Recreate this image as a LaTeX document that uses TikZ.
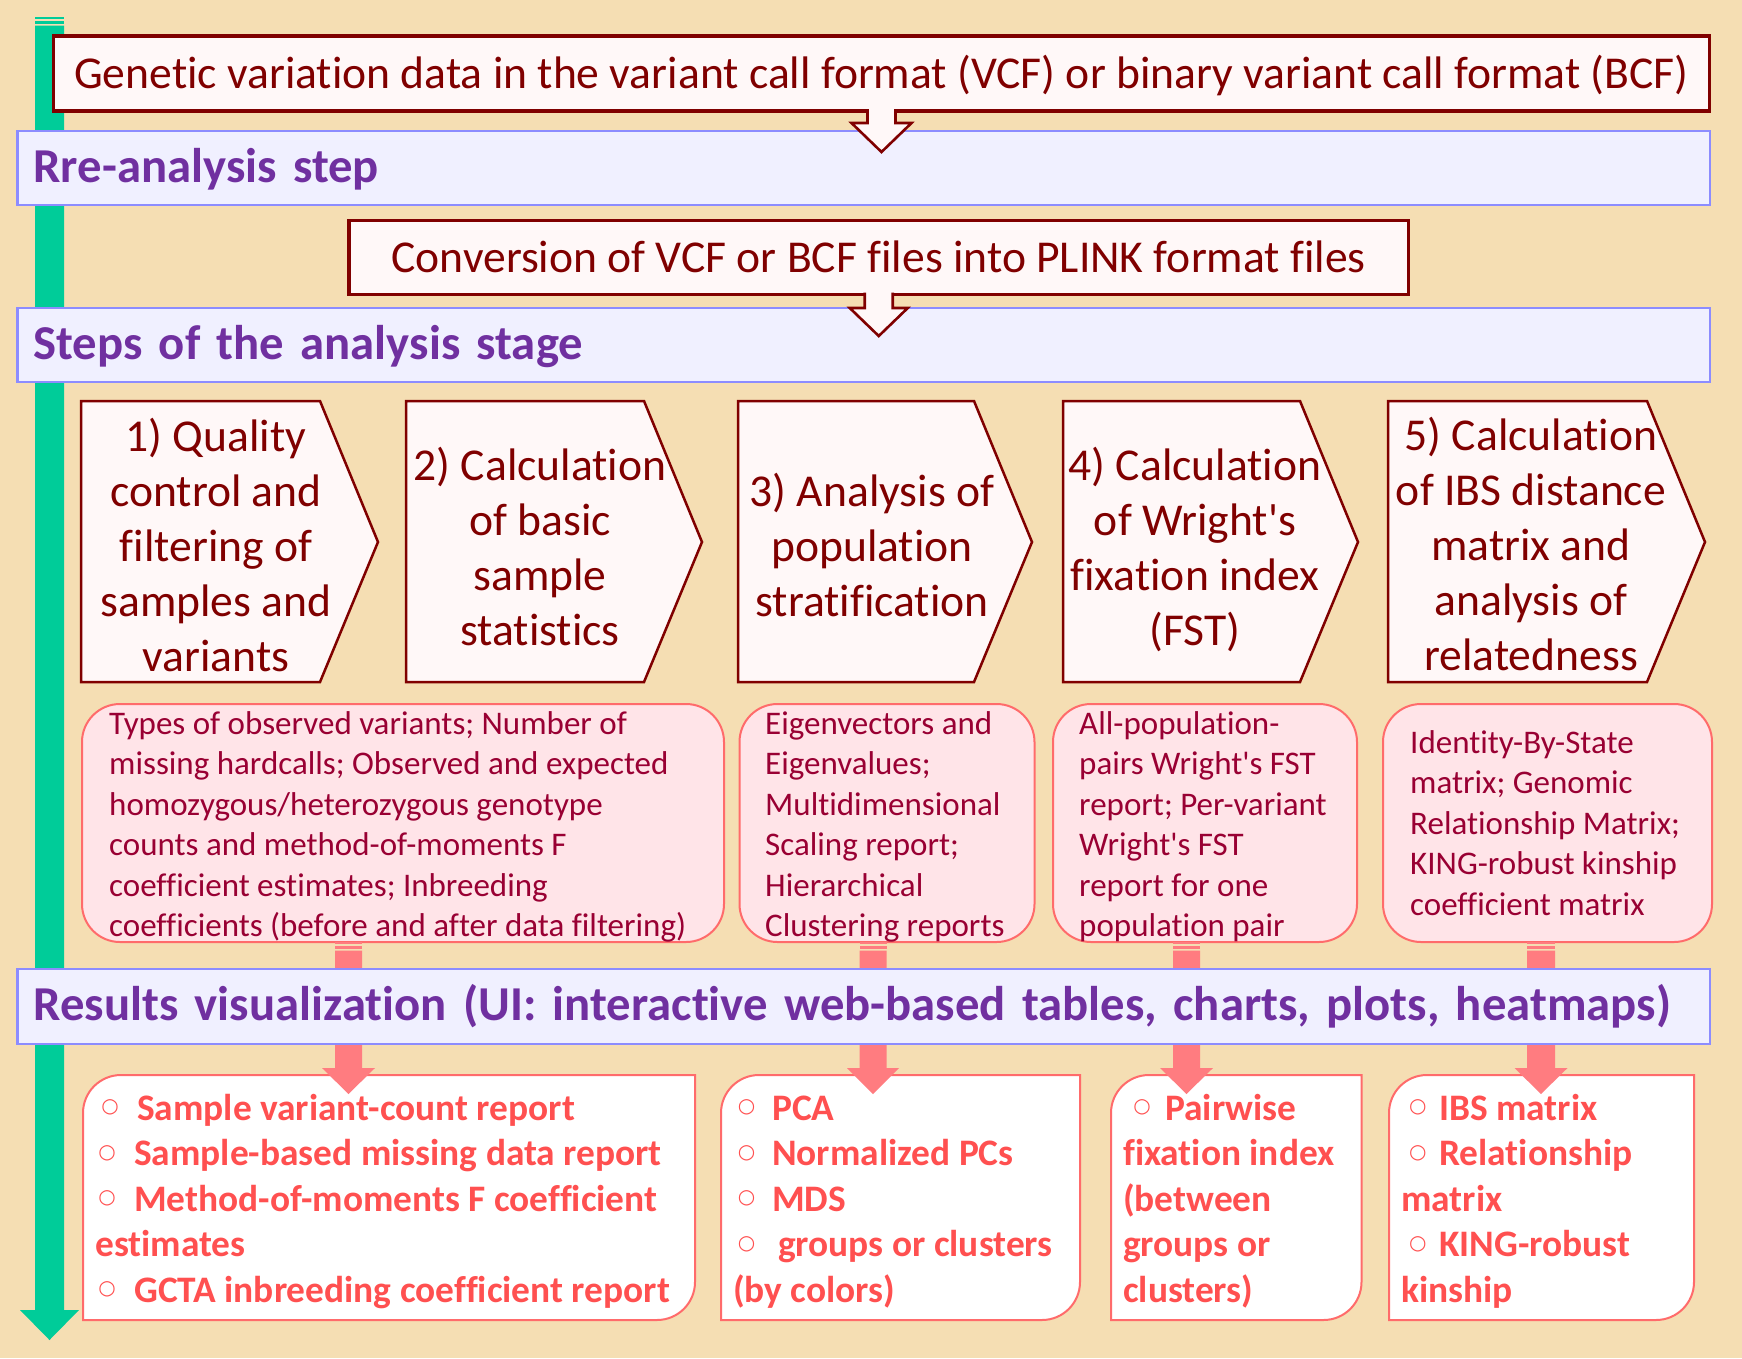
\documentclass[tikz,border=0pt]{standalone}
\usepackage{fontspec}
\setmainfont{Carlito}[Ligatures={TeXOff,NoCommon}]
\newfontfamily\symfont{DejaVu Sans}
\usetikzlibrary{calc}
\definecolor{bgc}{HTML}{F5DEB3}
\definecolor{grn}{HTML}{00CC99}
\definecolor{maroonc}{HTML}{800000}
\definecolor{paper}{HTML}{FFF8F8}
\definecolor{bandfill}{HTML}{F0F0FF}
\definecolor{banddraw}{HTML}{8C8CFF}
\definecolor{purp}{HTML}{7030A0}
\definecolor{pinkfill}{HTML}{FFE4E8}
\definecolor{pinkdraw}{HTML}{FF6B6B}
\definecolor{crim}{HTML}{990033}
\definecolor{redtxt}{HTML}{FF5050}
\definecolor{arrowpink}{HTML}{FF7C80}
\newcommand\bul[2]{\hspace*{#1pt}\makebox[10pt]{\symfont\fontsize{20}{20}\selectfont\raisebox{7.5pt}{○}}\hspace*{#2pt}}
% striped down arrow: colour, x centre, half stem, half head, y top, y head, y tip
\newcommand\sdarrow[7]{%
  \fill[#1] ({#2-#3},#5) rectangle ({#2+#3},{#5+2});
  \fill[#1] ({#2-#3},{#5+3.7}) rectangle ({#2+#3},{#5+6.7});
  \fill[#1] ({#2-#3},{#5+8.7}) -- ({#2-#3},#6) -- ({#2-#4},#6) -- (#2,#7) -- ({#2+#4},#6) -- ({#2+#3},#6) -- ({#2+#3},{#5+8.7}) -- cycle;
}
% box with rounded top-left and bottom-right corners
\newcommand\rcbox[4]{%
  \filldraw[ebox] (#1,#4) -- (#1,{#2+38}) .. controls (#1,{#2+17}) and ({#1+17},#2) .. ({#1+38},#2) -- (#3,#2) -- (#3,{#4-38}) .. controls (#3,{#4-17}) and ({#3-17},#4) .. ({#3-38},#4) -- cycle;
}
\begin{document}
\begin{tikzpicture}[x=1pt,y=-1pt,
  band/.style={draw=banddraw, line width=2.2pt, fill=bandfill, outer sep=0pt,
    minimum width=1692.5pt, minimum height=74pt, text width=1660.5pt, inner xsep=16pt, inner ysep=0pt,
    align=left, text height=28pt, text depth=0pt,
    font=\fontsize{48.7}{58}\selectfont\bfseries, text=purp},
  callbox/.style={draw=maroonc, line width=3.2pt, fill=paper, outer sep=0pt,
    inner sep=0pt, text height=29pt, text depth=0pt, text=maroonc,
    font=\fontsize{45.6}{55}\selectfont},
  calloutarrow/.style={draw=maroonc, line width=2.6pt, fill=paper, line join=miter},
  stepshape/.style={draw=maroonc, line width=2.5pt, fill=paper},
  steptext/.style={anchor=north, inner sep=0pt, align=center, text=maroonc,
    font=\fontsize{45.6}{55}\selectfont},
  pinkbox/.style={draw=pinkdraw, line width=2pt, fill=pinkfill, rounded corners=38pt,
    outer sep=0pt, minimum height=238pt},
  pinktext/.style={anchor=north west, inner sep=0pt, align=left, text=crim,
    font=\fontsize{33}{40.5}\selectfont},
  ebox/.style={draw=pinkdraw, line width=2pt, fill=white},
  etext/.style={anchor=north west, inner sep=0pt, align=left, text=redtxt,
    font=\fontsize{37.4}{45.5}\selectfont\bfseries},
]
\useasboundingbox (0,0) rectangle (1742,1358);
\fill[bgc] (0,0) rectangle (1742,1358);

% timeline arrow
\sdarrow{grn}{49.5}{14.5}{29.5}{17}{1310}{1340}

% stage bands
\node[band] (rre) at (863.8,168) {Rre-analysis step};
\node[band] (steps) at (863.8,345) {Steps of the analysis stage};

% input box with callout arrow
\node[callbox, minimum width=1656pt, minimum height=75pt] (gen) at (881.5,73.5)
  {Genetic variation data in the variant call format (VCF) or binary variant call format (BCF)};
\filldraw[calloutarrow] ($(gen.south)+(-14,-2)$) -- ++(0,14) -- ++(-16,0) -- ++(30,29) -- ++(30,-29) -- ++(-16,0) -- ++(0,-14);

\node[callbox, minimum width=1059.5pt, minimum height=74pt] (conv) at (878.75,257.5)
  {Conversion of VCF or BCF files into PLINK format files};
\filldraw[calloutarrow] ($(conv.south)+(-14,-2)$) -- ++(0,15.5) -- ++(-15,0) -- ++(29,28) -- ++(29,-28) -- ++(-15,0) -- ++(0,-15.5);

% analysis steps
\filldraw[stepshape] (81,401) -- (320,401) -- (378,542) -- (320,682) -- (81,682) -- cycle;
\filldraw[stepshape] (406,401) -- (644,401) -- (702,542) -- (644,682) -- (406,682) -- cycle;
\filldraw[stepshape] (738,401) -- (974,401) -- (1032,542) -- (974,682) -- (738,682) -- cycle;
\filldraw[stepshape] (1063,401) -- (1300,401) -- (1358,542) -- (1300,682) -- (1063,682) -- cycle;
\filldraw[stepshape] (1388,401) -- (1647,401) -- (1705,542) -- (1647,682) -- (1388,682) -- cycle;
\node[steptext] (s1) at (216,410) {\rule{0pt}{41pt}1) Quality\\control and\\filtering of\\samples and\\variants};
\node[steptext] (s2) at (540,439) {\rule{0pt}{41pt}2) Calculation\\of basic\\sample\\statistics};
\node[steptext] (s3) at (872,465) {\rule{0pt}{41pt}3) Analysis of\\population\\stratification};
\node[steptext] (s4) at (1195,439) {\rule{0pt}{41pt}4) Calculation\\of Wright's\\fixation index\\(FST)};
\node[steptext] (s5) at (1531,409) {\rule{0pt}{41pt}5) Calculation\\of IBS distance\\matrix and\\analysis of\\relatedness};

% output descriptions
\node[pinkbox, minimum width=642pt] (bA) at (403,823) {};
\node[pinkbox, minimum width=295pt] (bB) at (887,823) {};
\node[pinkbox, minimum width=304pt] (bC) at (1205,823) {};
\node[pinkbox, minimum width=329pt] (bD) at (1547.5,823) {};
\node[pinktext] (tA) at (109,704.3) {\rule{0pt}{29.7pt}Types of observed variants; Number of\\missing hardcalls; Observed and expected\\homozygous/heterozygous genotype\\counts and method-of-moments F\\coefficient estimates; Inbreeding\\coefficients (before and after data filtering)};
\node[pinktext] (tB) at (765,704.3) {\rule{0pt}{29.7pt}Eigenvectors and\\Eigenvalues;\\Multidimensional\\Scaling report;\\Hierarchical\\Clustering reports};
\node[pinktext] (tC) at (1079,704.3) {\rule{0pt}{29.7pt}All-population-\\pairs Wright's FST\\report; Per-variant\\Wright's FST\\report for one\\population pair};
\node[pinktext] (tD) at (1410,723.3) {\rule{0pt}{29.7pt}Identity-By-State\\matrix; Genomic\\Relationship Matrix;\\KING-robust kinship\\coefficient matrix};

% visualization boxes
\rcbox{83}{1075}{695}{1320}
\rcbox{721}{1075}{1080}{1320}
\rcbox{1111}{1075}{1361.5}{1320}
\rcbox{1389}{1075}{1694}{1320}

% arrows from descriptions to visualizations
\coordinate (a1) at (348.5,942);
\coordinate (a2) at (873,942);
\coordinate (a3) at (1186.5,942);
\coordinate (a4) at (1541,942);
\sdarrow{arrowpink}{348.5}{13.5}{26.5}{942}{1068}{1094}
\sdarrow{arrowpink}{873}{13.5}{26}{942}{1068}{1094}
\sdarrow{arrowpink}{1186.5}{13.5}{26.5}{942}{1068}{1094}
\sdarrow{arrowpink}{1541}{14}{26.5}{942}{1068}{1094}

\node[band, minimum height=75pt] (res) at (863.8,1006.5) {Results visualization (UI: interactive web-based tables, charts, plots, heatmaps)};

\node[etext] (tE) at (95,1086.7) {\rule{0pt}{33.3pt}\bul{10}{22}Sample variant-count report\\\bul{7}{22}Sample-based missing data report\\\bul{7}{22}Method-of-moments F coefficient\\estimates\\\bul{7}{22}GCTA inbreeding coefficient report};
\node[etext] (tF) at (733,1086.7) {\rule{0pt}{33.3pt}\bul{8.5}{20.5}PCA\\\bul{8.5}{20.5}Normalized PCs\\\bul{8.5}{20.5}MDS\\\bul{8.5}{26.5}groups or clusters\\(by colors)};
\node[etext] (tG) at (1123,1086.7) {\rule{0pt}{33.3pt}\bul{14}{18}Pairwise\\fixation index\\(between\\groups or\\clusters)};
\node[etext] (tH) at (1401,1086.7) {\rule{0pt}{33.3pt}\bul{11.6}{16.4}IBS matrix\\\bul{11.6}{16.4}Relationship\\matrix\\\bul{11.6}{16.4}KING-robust\\kinship};
\end{tikzpicture}
\end{document}
